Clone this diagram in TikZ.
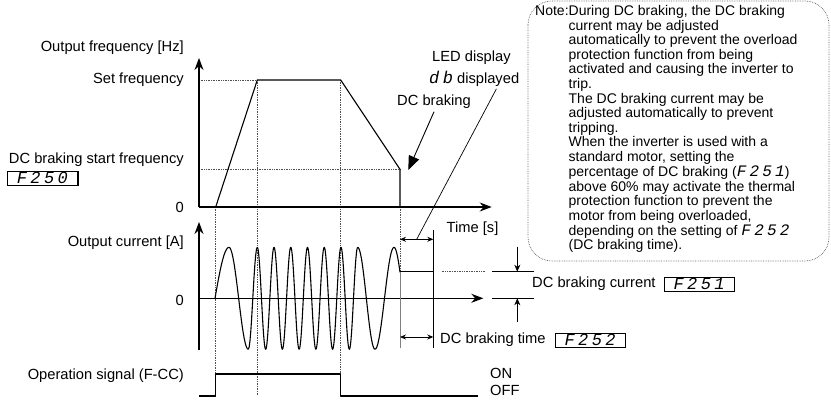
\documentclass[tikz,border=0pt]{standalone}
\usepackage{fontspec}
\setmainfont{Liberation Sans}
\newfontfamily\segfont[LetterSpace=20]{Liberation Mono}
\usetikzlibrary{arrows.meta, positioning}
\definecolor{guidegray}{RGB}{80,80,80}
\definecolor{notegray}{RGB}{100,100,100}

\begin{document}
\begin{tikzpicture}[x=1pt, y=-1pt,
    every node/.style={font=\fontsize{14.7}{17}\selectfont, inner sep=0pt},
    axis/.style={line width=1.2pt, -{Stealth[length=12pt,width=9pt]}},
    curve/.style={line width=1.1pt, line join=round},
    guide/.style={densely dotted, line width=0.7pt, guidegray},
    dimarr/.style={line width=0.8pt, {Stealth[length=6pt,width=5pt]}-{Stealth[length=6pt,width=5pt]}},
    segbox/.style={draw, line width=0.7pt, minimum width=70pt, minimum height=14pt,
        font=\segfont\itshape\fontsize{17}{17}\selectfont},
    notetxt/.style={font=\fontsize{14}{14.6}\selectfont}]
\useasboundingbox (0,0) rectangle (831,403);

% frequency chart
\coordinate (fo) at (199,207);
\coordinate (ftop) at (199,58);
\coordinate (fright) at (491.7,207);
\coordinate (yset) at (199,80);
\coordinate (ydcb) at (199,169.3);
\coordinate (f0) at (215.7,207);
\coordinate (fset1) at (257.3,80);
\coordinate (fset2) at (340.7,80);
\coordinate (fdcb) at (400,169.3);
\coordinate (fend) at (400,207);
% current chart
\coordinate (co) at (199,298.3);
\coordinate (cbot) at (199,350);
\coordinate (ctop) at (199,222);
\coordinate (cright) at (483.3,298.3);
\coordinate (dc1) at (400,271.7);
\coordinate (dc2) at (433.3,271.7);
\coordinate (dc3) at (433.3,298.3);
% operation signal
\coordinate (s0) at (199,396);
\coordinate (s1) at (215.7,396);
\coordinate (s2) at (215.7,374);
\coordinate (s3) at (340.7,374);
\coordinate (s4) at (340.7,396);
\coordinate (s5) at (478,396);
\coordinate (s6) at (257.3,396);
% braking time and current marks
\coordinate (ta) at (400,239.3);
\coordinate (tb) at (433.3,239.3);
\coordinate (tmid) at (416.7,239.3);
\coordinate (tc) at (400,337);
\coordinate (td) at (433.3,337);
\coordinate (ttop) at (433.3,230);
\coordinate (tbot) at (433.3,348);
\coordinate (tleft) at (400,348);
\coordinate (m1) at (441.7,271.7);
\coordinate (m2) at (484.3,271.7);
\coordinate (h1) at (492.3,271.7);
\coordinate (h2) at (534.3,271.7);
\coordinate (h3) at (492.3,298.3);
\coordinate (h4) at (534.3,298.3);
\coordinate (a1) at (517.3,246.7);
\coordinate (a2) at (517.3,271.7);
\coordinate (a3) at (517.3,322);
\coordinate (a4) at (517.3,298.3);
\coordinate (dcbtip) at (408.3,170);

% guides
\draw[guide] (yset) -- (fset1);
\draw[guide] (ydcb) -- (fdcb);
\draw[guide] (f0) -- (s1);
\draw[guide] (fset1) -- (s6);
\draw[guide] (fset2) -- (s3);
\draw[guide] (fend) -- (dc1);
\draw[guide] (m1) -- (m2);

% axes
\draw[axis] (fo) -- (ftop);
\draw[axis] (fo) -- (fright);
\draw[axis] (cbot) -- (ctop);
\draw[axis] (co) -- (cright);

% output frequency
\draw[curve] (f0) -- (fset1) -- (fset2) -- (fdcb) -- (fend);

% output current
\foreach \a/\b/\p/\q/\n in {215/229/0/0.5/12, 229/248.3/0.5/1.5/20, 248.3/257.3/1.5/2.5/12,
    257.3/357.7/2.5/14.5/240, 357.7/375/14.5/15.5/20, 375/394/15.5/16.5/20, 394/400/16.5/16.83/8}
  \draw[curve] plot[domain=\a:\b, samples=\n]
    (\x, {298.3-51*sin(180*(\p+(\q-\p)*(\x-\a)/(\b-\a)))});
\draw[curve] (dc1) -- (dc2) -- (dc3);

% operation signal
\draw[curve] (s0) -- (s1) -- (s2) -- (s3) -- (s4) -- (s5);

% braking time / current marks
\draw[line width=0.6pt, gray] (dc1) -- (tleft);
\draw[line width=1pt] (ttop) -- (tbot);
\draw[dimarr] (ta) -- (tb);
\draw[dimarr] (tc) -- (td);
\draw[line width=0.8pt] (h1) -- (h2);
\draw[line width=0.8pt] (h3) -- (h4);
\draw[line width=0.8pt, -{Stealth[length=7pt,width=6pt]}] (a1) -- (a2);
\draw[line width=0.8pt, -{Stealth[length=7pt,width=6pt]}] (a3) -- (a4);

% labels
\node[anchor=east] (ofreq) at (184,48) {Output frequency [Hz]};
\node[anchor=east] (setf) at (184,80) {Set frequency};
\node[anchor=east] (dcsf) at (184,160) {DC braking start frequency};
\node[segbox, anchor=west] (f250) at (7,178) {F250};
\node[anchor=east] (zf) at (184,207) {0};
\node[anchor=east] (ocur) at (184,243) {Output current [A]};
\node[anchor=east] (zc) at (184,300) {0};
\node[anchor=east] (opsig) at (184,376) {Operation signal (F-CC)};
\node[anchor=west] (on) at (490,373) {ON};
\node[anchor=west] (off) at (490,390) {OFF};
\node[anchor=west] (led) at (432,58) {LED display};
\node[anchor=west] (ledd) at (429,79) {{\segfont\itshape\fontsize{17}{17}\selectfont db} displayed};
\node (dcb) at (434,101.7) {DC braking};
\node (time) at (472.5,229) {Time [s]};
\node[anchor=west] (dccur) at (532,284) {DC braking current};
\node[segbox, right=8pt of dccur] (f251) {F251};
\node[anchor=west] (dctime) at (440,340) {DC braking time};
\node[segbox, right=9pt of dctime] (f252) {F252};
\foreach \b in {f250,f251,f252}
  \draw[line width=1.6pt] (\b.south west) -| (\b.north east);

\draw[line width=0.9pt, -{Triangle[length=14pt,width=11pt]}] ([yshift=-3pt]dcb.south) -- (dcbtip);
\draw[line width=0.7pt] ([xshift=-23pt,yshift=-2pt]ledd.south east) -- (tmid);

% note
\draw[densely dotted, line width=0.7pt, notegray, rounded corners=24pt] (528,1) rectangle (829,261);
\node[notetxt, anchor=north west] (note) at (535,5) {\begin{tabular}{@{}l@{}l@{}}
Note:&During DC braking, the DC braking\\
&current may be adjusted\\
&automatically to prevent the overload\\
&protection function from being\\
&activated and causing the inverter to\\
&trip.\\
&The DC braking current may be\\
&adjusted automatically to prevent\\
&tripping.\\
&When the inverter is used with a\\
&standard motor, setting the\\
&percentage of DC braking ({\segfont\itshape\fontsize{16}{14.6}\selectfont F251})\\
&above 60\% may activate the thermal\\
&protection function to prevent the\\
&motor from being overloaded,\\
&depending on the setting of {\segfont\itshape\fontsize{16}{14.6}\selectfont F252}\\
&(DC braking time).
\end{tabular}};
\end{tikzpicture}
\end{document}
